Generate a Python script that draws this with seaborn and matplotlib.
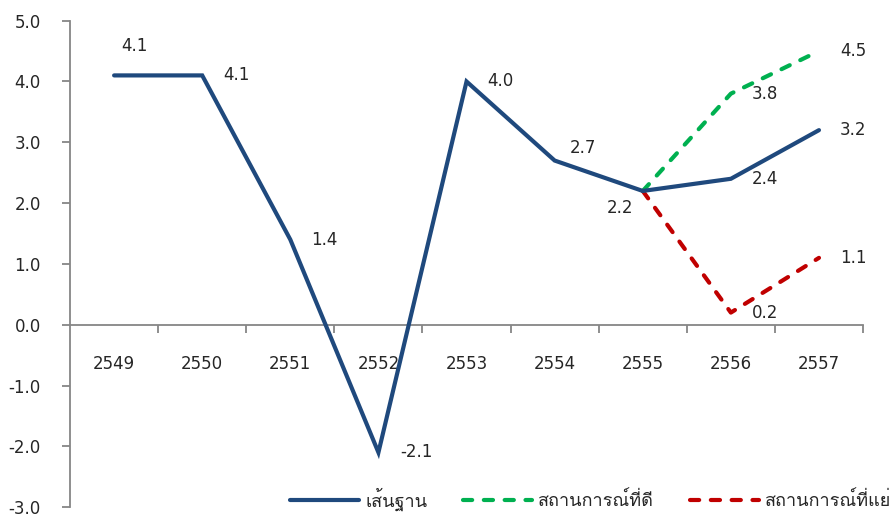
import numpy as np
import pandas as pd
import matplotlib
matplotlib.use("Agg")
import matplotlib.pyplot as plt
import seaborn as sns
from matplotlib import font_manager
from matplotlib.ft2font import FT2Font
from matplotlib.ticker import FixedLocator, FormatStrFormatter

# Data
years = ["2549", "2550", "2551", "2552", "2553", "2554", "2555", "2556", "2557"]
baseline = [4.1, 4.1, 1.4, -2.1, 4.0, 2.7, 2.2, 2.4, 3.2]
scenario_years = ["2555", "2556", "2557"]
good_case = [2.2, 3.8, 4.5]
bad_case = [2.2, 0.2, 1.1]
series_names = ["เส้นฐาน", "สถานการณ์ที่ดี", "สถานการณ์ที่แย่"]


def thai_family():
    """Return the first installed font family that has Thai glyphs."""
    for entry in font_manager.fontManager.ttflist:
        try:
            if 0x0E2A in FT2Font(entry.fname).get_charmap():
                return entry.name
        except Exception:
            continue
    return "DejaVu Sans"


sns.set_theme(style="white")
thai = thai_family()
# Numbers use DejaVu Sans; only the legend needs the Thai face
plt.rcParams["font.family"] = "DejaVu Sans"

BLUE = "#1F497D"
GREEN = "#00B050"
RED = "#C00000"
GRAY = "#868686"
TEXT = "#262626"
FS = 12

pos = {y: i for i, y in enumerate(years)}
base_df = pd.DataFrame({"x": [pos[y] for y in years], "v": baseline})
good_df = pd.DataFrame({"x": [pos[y] for y in scenario_years], "v": good_case})
bad_df = pd.DataFrame({"x": [pos[y] for y in scenario_years], "v": bad_case})

fig = plt.figure(figsize=(8.9, 5.17), dpi=100)
ax = fig.add_axes([0.0787, 0.0190, 0.891, 0.9410])

sns.lineplot(data=base_df, x="x", y="v", ax=ax, color=BLUE, linewidth=3.0,
             label=series_names[0], zorder=3)
sns.lineplot(data=good_df, x="x", y="v", ax=ax, color=GREEN, linewidth=3.0,
             label=series_names[1], zorder=2)
sns.lineplot(data=bad_df, x="x", y="v", ax=ax, color=RED, linewidth=3.0,
             label=series_names[2], zorder=2)
for line in ax.get_lines()[:1]:
    line.set_solid_capstyle("round")
    line.set_solid_joinstyle("miter")
for line in ax.get_lines()[1:]:
    line.set_linestyle((0, (2.2, 2.8)))
    line.set_dash_capstyle("round")

ax.set_xlim(-0.5, len(years) - 0.5)
ax.set_ylim(-3, 5)

# Axes styling
for side in ["top", "right"]:
    ax.spines[side].set_visible(False)
ax.spines["bottom"].set_position(("data", 0))
for side in ["left", "bottom"]:
    ax.spines[side].set_color(GRAY)
    ax.spines[side].set_linewidth(1.3)

ax.set_yticks(np.arange(-3, 5.01, 1.0))
ax.yaxis.set_major_formatter(FormatStrFormatter("%.1f"))
ax.tick_params(axis="y", direction="out", length=6, width=1.3, color=GRAY,
               pad=15, labelsize=FS, labelcolor=TEXT, left=True)

ax.set_xticks(range(len(years)))
ax.set_xticklabels(years)
ax.xaxis.set_minor_locator(FixedLocator(np.arange(0.5, len(years) - 0.4, 1.0)))
ax.tick_params(axis="x", which="major", length=0, pad=22, labelsize=FS,
               labelcolor=TEXT)
ax.tick_params(axis="x", which="minor", direction="out", length=6, width=1.3,
               color=GRAY, bottom=True)
ax.set_xlabel("")
ax.set_ylabel("")

# Value labels (offsets in points)
def put(x, v, dx=15, dy=0, ha="left"):
    ax.annotate(f"{v:.1f}", (x, v), xytext=(dx, dy), textcoords="offset points",
                ha=ha, va="center", fontsize=FS, color=TEXT)

base_offsets = {0: (5, 21, "left"), 5: (11, 9, "left"), 6: (-7, -12, "right"),
                3: (16, 0, "left")}
for i, v in enumerate(baseline):
    dx, dy, ha = base_offsets.get(i, (15, 0, "left"))
    put(i, v, dx, dy, ha)
for y, v in zip(scenario_years[1:], good_case[1:]):
    put(pos[y], v)
for y, v in zip(scenario_years[1:], bad_case[1:]):
    put(pos[y], v)

# Legend along the bottom
ax.get_legend().remove()
handles, labels = ax.get_legend_handles_labels()
fig.legend(handles, labels, loc="center left", bbox_to_anchor=(0.326, 0.035),
           ncol=3, frameon=False, borderpad=0, borderaxespad=0,
           handlelength=3.8, columnspacing=2.0, handletextpad=0.35,
           prop={"family": [thai, "DejaVu Sans"], "size": 13},
           labelcolor=TEXT)

fig.savefig("out.png", dpi=100)
